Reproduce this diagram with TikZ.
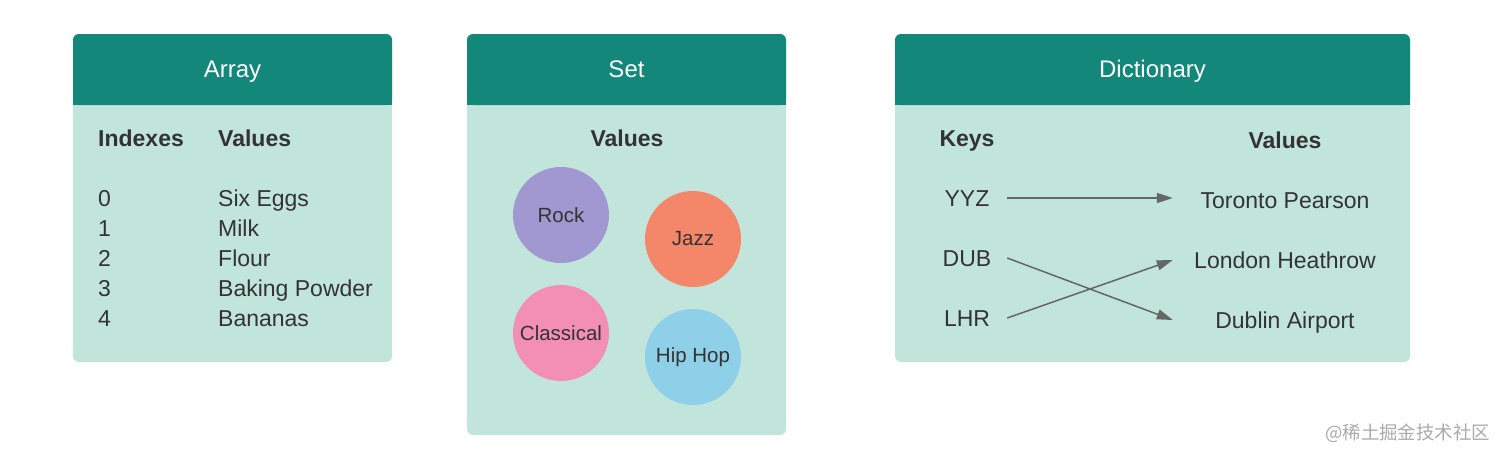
\documentclass[tikz,border=0pt]{standalone}
\usepackage{fontspec}
\setmainfont{Liberation Sans}
\newfontfamily\cjkfont{Noto Sans CJK SC}
\usetikzlibrary{arrows.meta}

\definecolor{headteal}{HTML}{12877A}
\definecolor{bodymint}{HTML}{C2E5DB}
\definecolor{inkgray}{HTML}{333333}
\definecolor{linkgray}{HTML}{666666}
\definecolor{rockpurple}{HTML}{A198D1}
\definecolor{jazzorange}{HTML}{F4866A}
\definecolor{classpink}{HTML}{F28FB3}
\definecolor{hipblue}{HTML}{8DD0E8}
\definecolor{markgray}{HTML}{AAAAAA}

\begin{document}
\begin{tikzpicture}
	[x=1pt, y=-1pt,
	txt/.style={inner sep=0pt, text height=16pt, text depth=0pt, text=inkgray, font=\fontsize{23}{27}\selectfont},
	bold txt/.style={txt, font=\fontsize{23}{27}\selectfont\bfseries},
	title/.style={inner sep=0pt, text height=17pt, text depth=0pt, text=white, font=\fontsize{24}{28}\selectfont},
	genre/.style={circle, minimum size=96pt, inner sep=0pt, text=inkgray, font=\fontsize{20.5}{24}\selectfont},
	key node/.style={txt, minimum width=80pt},
	value node/.style={txt, minimum width=224pt},
	link/.style={draw=linkgray, line width=1.5pt, -{Triangle[length=16pt, width=10pt]}}]

	\useasboundingbox (0,0) rectangle (1500,458);

	%the three cards: body, then header with rounded top
	\foreach \l/\r/\b/\t/\n in {73/392/362/Array/arr, 467/786/435/Set/set, 895/1410/362/Dictionary/dict}{
		\fill[bodymint, rounded corners=6pt] (\l,34) rectangle (\r,\b);
		\fill[headteal, rounded corners=6pt] (\l,34) rectangle (\r,105);
		\fill[headteal] (\l,90) rectangle (\r,105);
		\node[title] (\n) at ({(\l+\r)/2},69) {\t};
	}

	%array
	\node[bold txt, anchor=west] (idxhead) at (98,138) {Indexes};
	\node[bold txt, anchor=west] (arrvals) at (218,138) {Values};
	\foreach \i/\v in {0/Six Eggs, 1/Milk, 2/Flour, 3/Baking Powder, 4/Bananas}{
		\node[txt, anchor=west] (idx\i) at (98,198+30*\i) {\i};
		\node[txt, anchor=west] (val\i) at (218,198+30*\i) {\v};
	}

	%set
	\node[bold txt] (setvals) at (627,138) {Values};
	\node[genre, fill=rockpurple] (rock) at (561,215) {Rock};
	\node[genre, fill=jazzorange] (jazz) at (693,239) {Jazz};
	\node[genre, fill=classpink] (classical) at (561,333) {Classical};
	\node[genre, fill=hipblue] (hiphop) at (693,357) {Hip Hop};

	%dictionary
	\node[bold txt] (keys) at (967,138) {Keys};
	\node[bold txt] (dictvals) at (1285,140) {Values};
	\node[key node] (yyz) at (967,198) {YYZ};
	\node[key node] (dub) at (967,258) {DUB};
	\node[key node] (lhr) at (967,318) {LHR};
	\node[value node] (toronto) at (1285,200) {Toronto Pearson};
	\node[value node] (london) at (1285,260) {London Heathrow};
	\node[value node] (dublin) at (1285,320) {Dublin Airport};

	\path[link] (yyz.east) -- (yyz -| toronto.west);
	\path[link] (dub.east) -- (dublin.west);
	\path[link] (lhr.east) -- (london.west);

	\node[inner sep=0pt, anchor=east, text=markgray, font=\cjkfont\fontsize{18.4}{22}\selectfont] (mark) at (1490,433) {@稀土掘金技术社区};
\end{tikzpicture}
\end{document}
